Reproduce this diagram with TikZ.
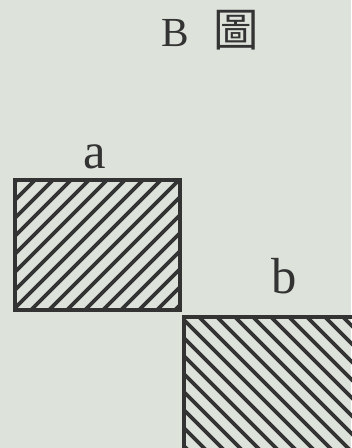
\documentclass[tikz,border=0pt]{standalone}
\usepackage{fontspec}
\usepackage{xcolor}
\setmainfont{Liberation Serif}
\newfontfamily\cjkfont{Noto Sans CJK TC}
\definecolor{paperc}{HTML}{DDE2DA}
\definecolor{inkc}{HTML}{333333}
\tikzset{
  frame/.style={draw=inkc, line width=2.6pt, line join=miter},
  hatch/.style={draw=inkc, line width=2.8pt},
  letter/.style={text=inkc, inner sep=0pt, font=\fontsize{38}{38}\selectfont},
  heading/.style={text=inkc, inner sep=0pt, font=\fontsize{31}{31}\selectfont},
}

\begin{document}
\begin{tikzpicture}[x=0.75pt, y=-0.75pt]
\fill[paperc] (0,0) rectangle (351,448);
\useasboundingbox (0,0) rectangle (351,448);
% title
\node[heading, anchor=base] (title) at (210,47) {B\hspace{0.6em}{\cjkfont\fontsize{34}{34}\selectfont 圖}};
% box a
\node[letter, anchor=base] (la) at (95,169) {a};
\begin{scope}
\clip (15,180) rectangle (180,310);
\foreach \c in {197,215,...,500}
  \draw[hatch] (\c,0) -- (\c-500,500);
\end{scope}
\draw[frame] (15,180) rectangle (180,310);
% box b
\node[letter, anchor=base] (lb) at (284,293) {b};
\begin{scope}
\clip (184,317) rectangle (360,460);
\foreach \c in {-280,-262,...,50}
  \draw[hatch] (\c,0) -- (\c+500,500);
\end{scope}
\draw[frame] (184,317) rectangle (360,460);
\end{tikzpicture}
\end{document}
